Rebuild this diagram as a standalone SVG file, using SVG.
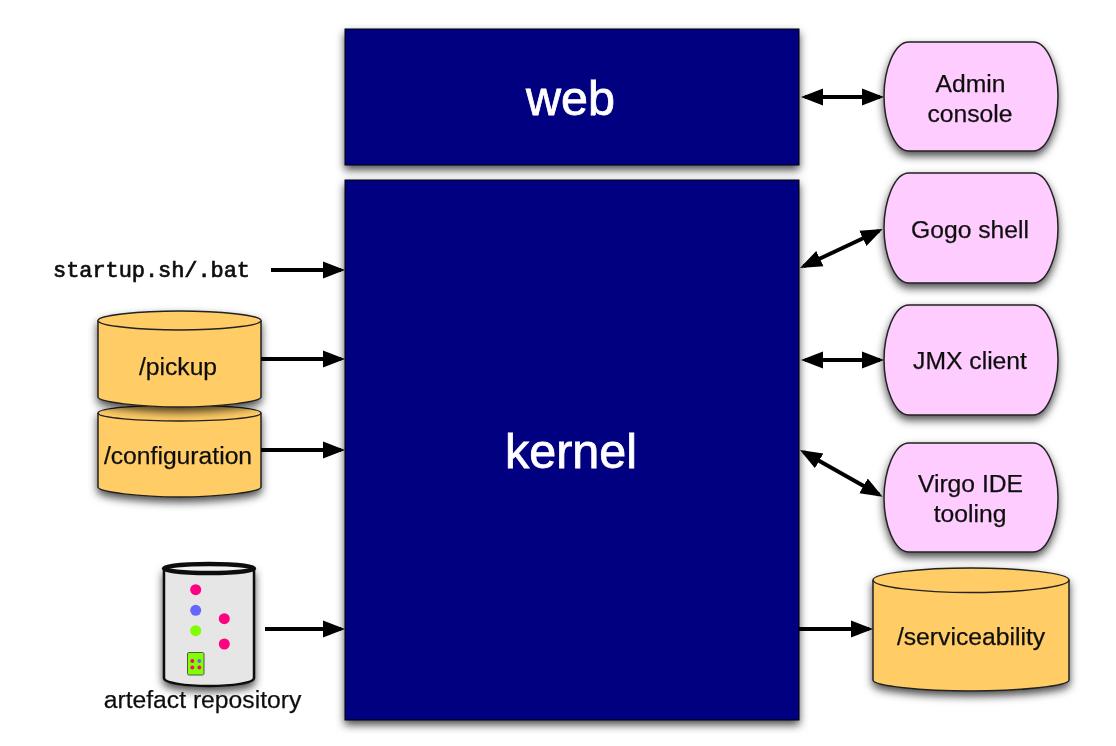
<svg xmlns="http://www.w3.org/2000/svg" width="1116" height="746" viewBox="0 0 1116 746">
<style>
.t{font-family:"Liberation Sans",Arial,sans-serif;font-size:24.700px;fill:#111;text-anchor:middle;stroke:#111;stroke-width:0.250px}
.big{font-family:"Liberation Sans",Arial,sans-serif;font-size:48.500px;fill:#fff;text-anchor:middle;stroke:#fff;stroke-width:0.800px}
.mono{font-family:"Liberation Mono","Courier New",monospace;font-size:22px;fill:#111;stroke:#111;stroke-width:0.700px}
.box{fill:#000080;stroke:#000;stroke-width:1}
.pill{fill:#ffccff;stroke:#222;stroke-width:1.500px}
.cyl{fill:#ffcc66;stroke:#222;stroke-width:1.500px}
.c{stroke:#000;stroke-width:4px;fill:none}
.one{marker-end:url(#ah)}
.two{marker-start:url(#ah);marker-end:url(#ah)}
</style>
<defs>
<marker id="ah" markerUnits="userSpaceOnUse" markerWidth="24" markerHeight="20" viewBox="0 0 24 20" refX="18" refY="10" orient="auto-start-reverse">
<path d="M0,1.500 L22,10 L0,18.500 Z" fill="#000"/>
</marker>
<filter id="sh" x="-15%" y="-15%" width="130%" height="130%">
<feDropShadow dx="0" dy="4.500" stdDeviation="4" flood-color="#000" flood-opacity="0.700"/>
</filter>
<filter id="soft" filterUnits="userSpaceOnUse" x="0" y="0" width="1116" height="746"><feGaussianBlur stdDeviation="0.450"/></filter>
</defs>
<rect width="1116" height="746" fill="#fff"/>
<g filter="url(#soft)">
<g id="web"><rect class="box" x="345" y="29" width="454" height="136" filter="url(#sh)"/><text class="big" x="570.500" y="115">web</text></g>
<g id="kernel"><rect class="box" x="345" y="180" width="454" height="540" filter="url(#sh)"/><text class="big" x="571" y="468">kernel</text></g>
<g id="startup"><text class="mono" x="53" y="277" textLength="197">startup.sh/.bat</text></g>
<g id="configuration">
<path class="cyl" filter="url(#sh)" d="M98,413 C98,408 140,405 179.500,405 C219,405 261,408 261,413 V487 C261,492 219,497 179.500,497 C140,497 98,492 98,487 Z"/>
<path class="cyl" d="M98,413 C98,418 140,421 179.500,421 C219,421 261,418 261,413"/>
<text class="t" x="178" y="464">/configuration</text>
</g>
<g id="pickup">
<path class="cyl" filter="url(#sh)" d="M98,320.500 C98,315 140,311 179.500,311 C219,311 261,315 261,320.500 V397 C261,402 219,407 179.500,407 C140,407 98,402 98,397 Z"/>
<path class="cyl" d="M98,320.500 C98,326 140,330 179.500,330 C219,330 261,326 261,320.500"/>
<text class="t" x="178" y="375">/pickup</text>
</g>
<g id="artefact-repository">
<path filter="url(#sh)" fill="#e6e6e6" stroke="#111" stroke-width="2.500" d="M164,569 V678 C164,683 186,686 209,686 C232,686 254,683 254,678 V569 Z"/>
<ellipse cx="209" cy="568.500" rx="45" ry="4.500" fill="#f2f2f2" stroke="#111" stroke-width="4.500"/>
<circle cx="195.700" cy="589.700" r="5.500" fill="#ff0080"/>
<circle cx="195.700" cy="610.300" r="5.500" fill="#6666ff"/>
<circle cx="195.700" cy="630.700" r="5.500" fill="#80ff00"/>
<circle cx="224.300" cy="618.700" r="5.500" fill="#ff0080"/>
<circle cx="224.300" cy="644" r="5.500" fill="#ff0080"/>
<rect x="187.500" y="652.500" width="16.500" height="22.500" rx="1.500" fill="#80ff00" stroke="#555" stroke-width="1"/>
<circle cx="192.300" cy="661" r="1.900" fill="#ff0080"/>
<circle cx="199.300" cy="661" r="1.900" fill="#6666ff"/>
<circle cx="192.300" cy="667.500" r="1.900" fill="#ff0080"/>
<circle cx="199.300" cy="667.500" r="1.900" fill="#ff0080"/>
<text class="t" x="202.500" y="708">artefact repository</text>
</g>
<g id="admin-console">
<path class="pill" filter="url(#sh)" d="M909,42 H1033 C1048,42 1058,70 1058,96 C1058,122 1048,151 1033,151 H909 C894,151 884,122 884,96 C884,70 894,42 909,42 Z"/>
<text class="t" x="970.500" y="92">Admin</text><text class="t" x="970" y="122">console</text>
</g>
<g id="gogo-shell">
<path class="pill" filter="url(#sh)" d="M909,173 H1033 C1048,173 1058,202 1058,228 C1058,254 1048,283 1033,283 H909 C894,283 884,254 884,228 C884,202 894,173 909,173 Z"/>
<text class="t" x="970" y="238">Gogo shell</text>
</g>
<g id="jmx-client">
<path class="pill" filter="url(#sh)" d="M909,305 H1033 C1048,305 1058,334 1058,360 C1058,386 1048,415 1033,415 H909 C894,415 884,386 884,360 C884,334 894,305 909,305 Z"/>
<text class="t" x="970" y="369">JMX client</text>
</g>
<g id="virgo-ide-tooling">
<path class="pill" filter="url(#sh)" d="M909,443 H1033 C1048,443 1058,472 1058,498 C1058,524 1048,552 1033,552 H909 C894,552 884,524 884,498 C884,472 894,443 909,443 Z"/>
<text class="t" x="970.500" y="492">Virgo IDE</text><text class="t" x="970" y="522">tooling</text>
</g>
<g id="serviceability">
<path class="cyl" filter="url(#sh)" d="M873,580 C873,573 922,568 971,568 C1020,568 1069,573 1069,580 V680 C1069,686 1020,691 971,691 C922,691 873,686 873,680 Z"/>
<path class="cyl" d="M873,580 C873,587 922,592.500 971,592.500 C1020,592.500 1069,587 1069,580"/>
<text class="t" x="971" y="645">/serviceability</text>
</g>
<g id="connectors">
<line class="c one" x1="271" y1="270" x2="341" y2="270"/>
<line class="c one" x1="261" y1="359" x2="341" y2="359"/>
<line class="c one" x1="261" y1="450" x2="341" y2="450"/>
<line class="c one" x1="265" y1="629" x2="341" y2="629"/>
<line class="c one" x1="799" y1="629" x2="869" y2="629"/>
<line class="c two" x1="805" y1="97" x2="880" y2="97"/>
<line class="c two" x1="803.600" y1="266.300" x2="879.100" y2="230.700"/>
<line class="c two" x1="805" y1="360" x2="880" y2="360"/>
<line class="c two" x1="803.500" y1="452" x2="879.200" y2="494.800"/>
</g>
</g>
</svg>
